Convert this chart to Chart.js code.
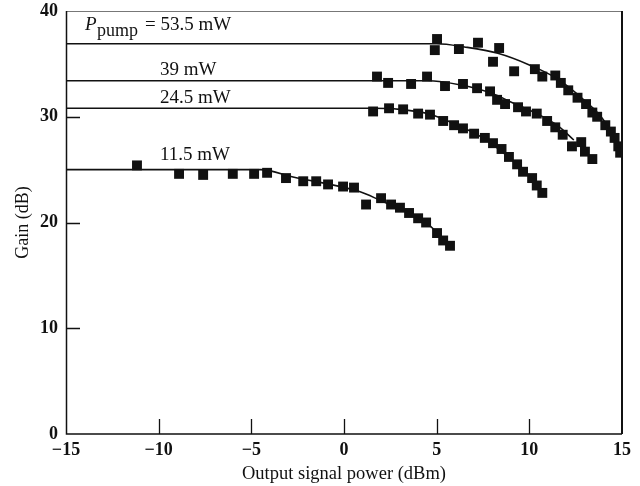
<!DOCTYPE html>
<html>
<head>
<meta charset="utf-8">
<script src="https://cdn.jsdelivr.net/npm/chart.js@4/dist/chart.umd.min.js"></script>
<style>
  html, body { margin: 0; padding: 0; background: #fff; }
  canvas { display: block; }
</style>
</head>
<body>
<canvas id="chart" width="640" height="486"></canvas>
<script>
// measured points, output signal power (dBm) and gain (dB)
const power53 = [4.9, 5.02, 6.2, 7.23, 8.04, 8.37, 9.18, 10.3, 10.7, 11.4, 11.7, 12.1, 12.6, 13.06, 13.4, 13.66, 14.1, 14.4, 14.6, 14.8, 14.9];
const gain53 = [36.3, 37.35, 36.4, 37.0, 35.2, 36.5, 34.3, 34.5, 33.8, 33.9, 33.2, 32.5, 31.8, 31.2, 30.4, 30.0, 29.2, 28.6, 28.0, 27.2, 26.6];

const power39 = [1.78, 2.38, 3.62, 4.48, 5.45, 6.42, 7.18, 7.88, 8.26, 8.69, 9.39, 9.82, 10.4, 10.96, 11.4, 11.8, 12.3, 12.8, 13.0, 13.4];
const gain39 = [33.8, 33.2, 33.1, 33.8, 32.9, 33.1, 32.7, 32.4, 31.6, 31.2, 30.9, 30.5, 30.3, 29.6, 29.0, 28.3, 27.2, 27.6, 26.7, 26.0];

const power24 = [1.57, 2.43, 3.19, 4.0, 4.64, 5.35, 5.94, 6.42, 7.02, 7.6, 8.04, 8.5, 8.9, 9.34, 9.66, 10.15, 10.4, 10.7];
const gain24 = [30.5, 30.8, 30.7, 30.3, 30.2, 29.6, 29.2, 28.9, 28.4, 28.0, 27.5, 26.95, 26.2, 25.5, 24.8, 24.2, 23.5, 22.8];

const power11 = [-11.17, -8.9, -7.6, -6.0, -4.85, -4.15, -3.13, -2.2, -1.5, -0.86, -0.05, 0.54, 1.19, 2.0, 2.54, 3.02, 3.51, 4.0, 4.43, 5.02, 5.35, 5.72];
const gain11 = [25.4, 24.6, 24.5, 24.6, 24.6, 24.7, 24.2, 23.9, 23.9, 23.6, 23.4, 23.3, 21.7, 22.3, 21.7, 21.4, 20.9, 20.4, 20.0, 19.0, 18.3, 17.8];

// fitted curves
const curve53X = [-15, 5, 6.5, 8.3, 10, 11.5, 13, 14, 15];
const curve53Y = [36.9, 36.9, 36.6, 36.0, 34.9, 33.6, 31.5, 29.7, 26.6];
const curve39X = [-15, 4.5, 6.3, 8, 9, 10.4, 11.5, 12.4];
const curve39Y = [33.4, 33.4, 33.0, 32.2, 31.4, 30.3, 29.2, 27.8];
const curve24X = [-15, 1.5, 3, 4.5, 6, 7.5, 9, 10, 10.7];
const curve24Y = [30.8, 30.8, 30.7, 30.3, 29.3, 28.0, 26.0, 24.4, 22.9];
const curve11X = [-15, -4.5, -2.75, 0.87, 1.95, 3.5, 4.5, 5.7];
const curve11Y = [25.0, 25.0, 24.3, 22.9, 22.1, 20.9, 19.9, 17.8];

const pumpLabels = ['53.5 mW', '39 mW', '24.5 mW', '11.5 mW'];
const xTicks = [-15, -10, -5, 0, 5, 10, 15];
const yTicks = [0, 10, 20, 30, 40];

const SERIF = '"Liberation Serif", "DejaVu Serif", serif';

const toPoints = (xs, ys) => xs.map((x, i) => ({ x: x, y: ys[i] }));

const markerSet = (xs, ys) => ({
  type: 'scatter',
  data: toPoints(xs, ys),
  pointStyle: 'rect',
  pointRadius: 7,
  backgroundColor: '#111',
  borderWidth: 0,
  showLine: false,
});

const curveSet = (xs, ys) => ({
  type: 'line',
  data: toPoints(xs, ys),
  borderColor: '#111',
  borderWidth: 1.6,
  pointRadius: 0,
  fill: false,
  cubicInterpolationMode: 'monotone',
});

// inward ticks, frame and the pump power labels
const decorations = {
  id: 'decorations',
  afterDatasetsDraw(chart) {
    const { ctx, chartArea: a, scales: { x, y } } = chart;
    ctx.save();
    ctx.strokeStyle = '#111';
    ctx.lineWidth = 1.3;
    ctx.beginPath();
    yTicks.slice(1, -1).forEach((v) => {
      const py = Math.round(y.getPixelForValue(v)) + 0.5;
      ctx.moveTo(a.left, py);
      ctx.lineTo(a.left + 14, py);
    });
    xTicks.slice(1, -1).forEach((v) => {
      const px = Math.round(x.getPixelForValue(v)) + 0.5;
      ctx.moveTo(px, a.bottom);
      ctx.lineTo(px, a.bottom - 15);
    });
    ctx.stroke();

    // frame
    ctx.strokeStyle = '#777';
    ctx.lineWidth = 1;
    ctx.beginPath();
    ctx.moveTo(a.left, a.top + 0.5);
    ctx.lineTo(a.right, a.top + 0.5);
    ctx.stroke();
    ctx.strokeStyle = '#111';
    ctx.lineWidth = 1.5;
    ctx.beginPath();
    ctx.moveTo(a.left + 0.5, a.top);
    ctx.lineTo(a.left + 0.5, a.bottom);
    ctx.lineTo(a.right, a.bottom);
    ctx.stroke();
    ctx.lineWidth = 2;
    ctx.beginPath();
    ctx.moveTo(a.right, a.top);
    ctx.lineTo(a.right, a.bottom);
    ctx.stroke();

    // labels
    ctx.fillStyle = '#111';
    ctx.textBaseline = 'alphabetic';
    ctx.textAlign = 'left';
    const lx = x.getPixelForValue(-9.93);
    ctx.font = 'italic 19px ' + SERIF;
    ctx.fillText('P', x.getPixelForValue(-13.97), y.getPixelForValue(38.2));
    ctx.font = '18px ' + SERIF;
    ctx.fillText('pump', x.getPixelForValue(-13.33), y.getPixelForValue(37.64));
    ctx.font = '19px ' + SERIF;
    ctx.fillText('= ' + pumpLabels[0], x.getPixelForValue(-10.74), y.getPixelForValue(38.2));
    ctx.fillText(pumpLabels[1], lx, y.getPixelForValue(33.95));
    ctx.fillText(pumpLabels[2], lx, y.getPixelForValue(31.3));
    ctx.fillText(pumpLabels[3], lx, y.getPixelForValue(25.9));
    ctx.restore();
  },
};

new Chart(document.getElementById('chart'), {
  type: 'scatter',
  data: {
    datasets: [
      curveSet(curve53X, curve53Y),
      curveSet(curve39X, curve39Y),
      curveSet(curve24X, curve24Y),
      curveSet(curve11X, curve11Y),
      markerSet(power53, gain53),
      markerSet(power39, gain39),
      markerSet(power24, gain24),
      markerSet(power11, gain11),
    ],
  },
  options: {
    responsive: false,
    animation: false,
    layout: { padding: { top: 11, right: 18, left: 0, bottom: 0 } },
    plugins: {
      legend: { display: false },
      tooltip: { enabled: false },
    },
    scales: {
      x: {
        type: 'linear',
        min: -15,
        max: 15,
        afterBuildTicks: (s) => { s.ticks = xTicks.map((v) => ({ value: v })); },
        afterFit: (s) => { s.height = 52; s.paddingLeft = 0; s.paddingRight = 0; },
        grid: { display: false, drawTicks: false },
        border: { display: false },
        ticks: {
          padding: 6,
          color: '#111',
          font: { family: SERIF, size: 18, weight: 'bold' },
          callback: (v) => String(v).replace('-', '\u2212'),
        },
        title: {
          display: true,
          text: 'Output signal power (dBm)',
          color: '#111',
          font: { family: SERIF, size: 18.5 },
          padding: { top: 0, bottom: 1 },
        },
      },
      y: {
        type: 'linear',
        min: 0,
        max: 40,
        afterBuildTicks: (s) => { s.ticks = yTicks.map((v) => ({ value: v })); },
        afterFit: (s) => { s.width = 66; s.paddingTop = 0; s.paddingBottom = 0; },
        grid: { display: false, drawTicks: false },
        border: { display: false },
        ticks: {
          padding: 8,
          color: '#111',
          font: { family: SERIF, size: 18, weight: 'bold' },
        },
        title: {
          display: true,
          text: 'Gain (dB)',
          color: '#111',
          font: { family: SERIF, size: 18 },
          padding: { top: 12, bottom: 2 },
        },
      },
    },
  },
  plugins: [decorations],
});
</script>
</body>
</html>
